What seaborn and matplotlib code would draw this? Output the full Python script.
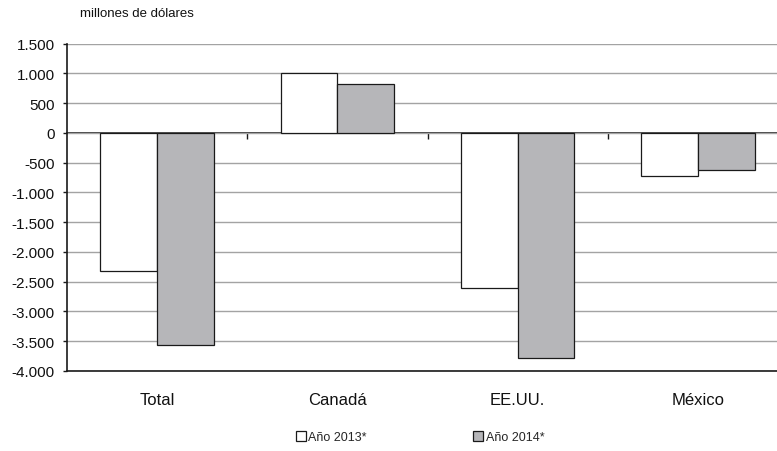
import matplotlib
matplotlib.use("Agg")
import matplotlib.pyplot as plt
import matplotlib.ticker as mticker
import seaborn as sns
import pandas as pd

categories = ["Total", "Canadá", "EE.UU.", "México"]
series_names = ["Año 2013*", "Año 2014*"]
values_2013 = [-2320, 1010, -2610, -730]
values_2014 = [-3560, 830, -3775, -624]
y_ticks = [1500, 1000, 500, 0, -500, -1000, -1500, -2000, -2500, -3000, -3500, -4000]

df = pd.DataFrame({
    "cat": categories * 2,
    "serie": [series_names[0]] * 4 + [series_names[1]] * 4,
    "val": values_2013 + values_2014,
})

sns.set_theme(style="white")
plt.rcParams["font.family"] = ["Liberation Sans", "DejaVu Sans"]

fig = plt.figure(figsize=(7.77, 4.52), dpi=100)
ax = fig.add_axes([67 / 777, 1 - 372 / 452, (788 - 67) / 777, (372 - 44.7) / 452])

sns.barplot(data=df, x="cat", y="val", hue="serie", order=categories,
            hue_order=series_names, palette=["#ffffff", "#b5b6b9"],
            edgecolor="#1a1a1a", linewidth=0.9, width=0.63, gap=0,
            ax=ax, legend=True, zorder=3)

ax.set_ylim(-4000, 1500)
ax.set_xlim(-0.5, 3.5)
ax.set_yticks(y_ticks)
ax.yaxis.set_major_formatter(mticker.FuncFormatter(lambda v, p: f"{int(v):,}".replace(",", ".")))
ax.grid(axis="y", color="#a3a3a3", linewidth=1.0, zorder=0)
ax.set_axisbelow(True)
ax.set_xlabel("")
ax.set_ylabel("")

for s in ["top", "right"]:
    ax.spines[s].set_visible(False)
for s in ["left", "bottom"]:
    ax.spines[s].set_color("#1a1a1a")
    ax.spines[s].set_linewidth(1.2)

ax.tick_params(axis="y", left=True, length=3, width=1, color="#1a1a1a",
               labelsize=11, pad=6, labelcolor="#111111")
ax.tick_params(axis="x", bottom=False, length=0, labelsize=12, pad=15, labelcolor="#111111")

sec = ax.secondary_xaxis(4000 / 5500)
sec.set_xticks([0.5, 1.5, 2.5])
sec.set_xticklabels([])
sec.tick_params(direction="in", length=4, width=1, color="#1a1a1a")
sec.spines["top"].set_color("#1a1a1a")
sec.spines["top"].set_linewidth(1.2)

handles, labels = ax.get_legend_handles_labels()
ax.get_legend().remove()
fig.legend(handles, labels, ncol=2, loc="center", bbox_to_anchor=(420 / 777, 1 - 438 / 452),
           frameon=False, fontsize=9, handlelength=0.8, handleheight=0.8,
           handletextpad=0.2, columnspacing=8.5)

fig.text(80 / 777, 1 - 14 / 452, "millones de dólares", fontsize=9.5, va="center", ha="left",
         color="#111111")

fig.savefig("out.png", dpi=100)
